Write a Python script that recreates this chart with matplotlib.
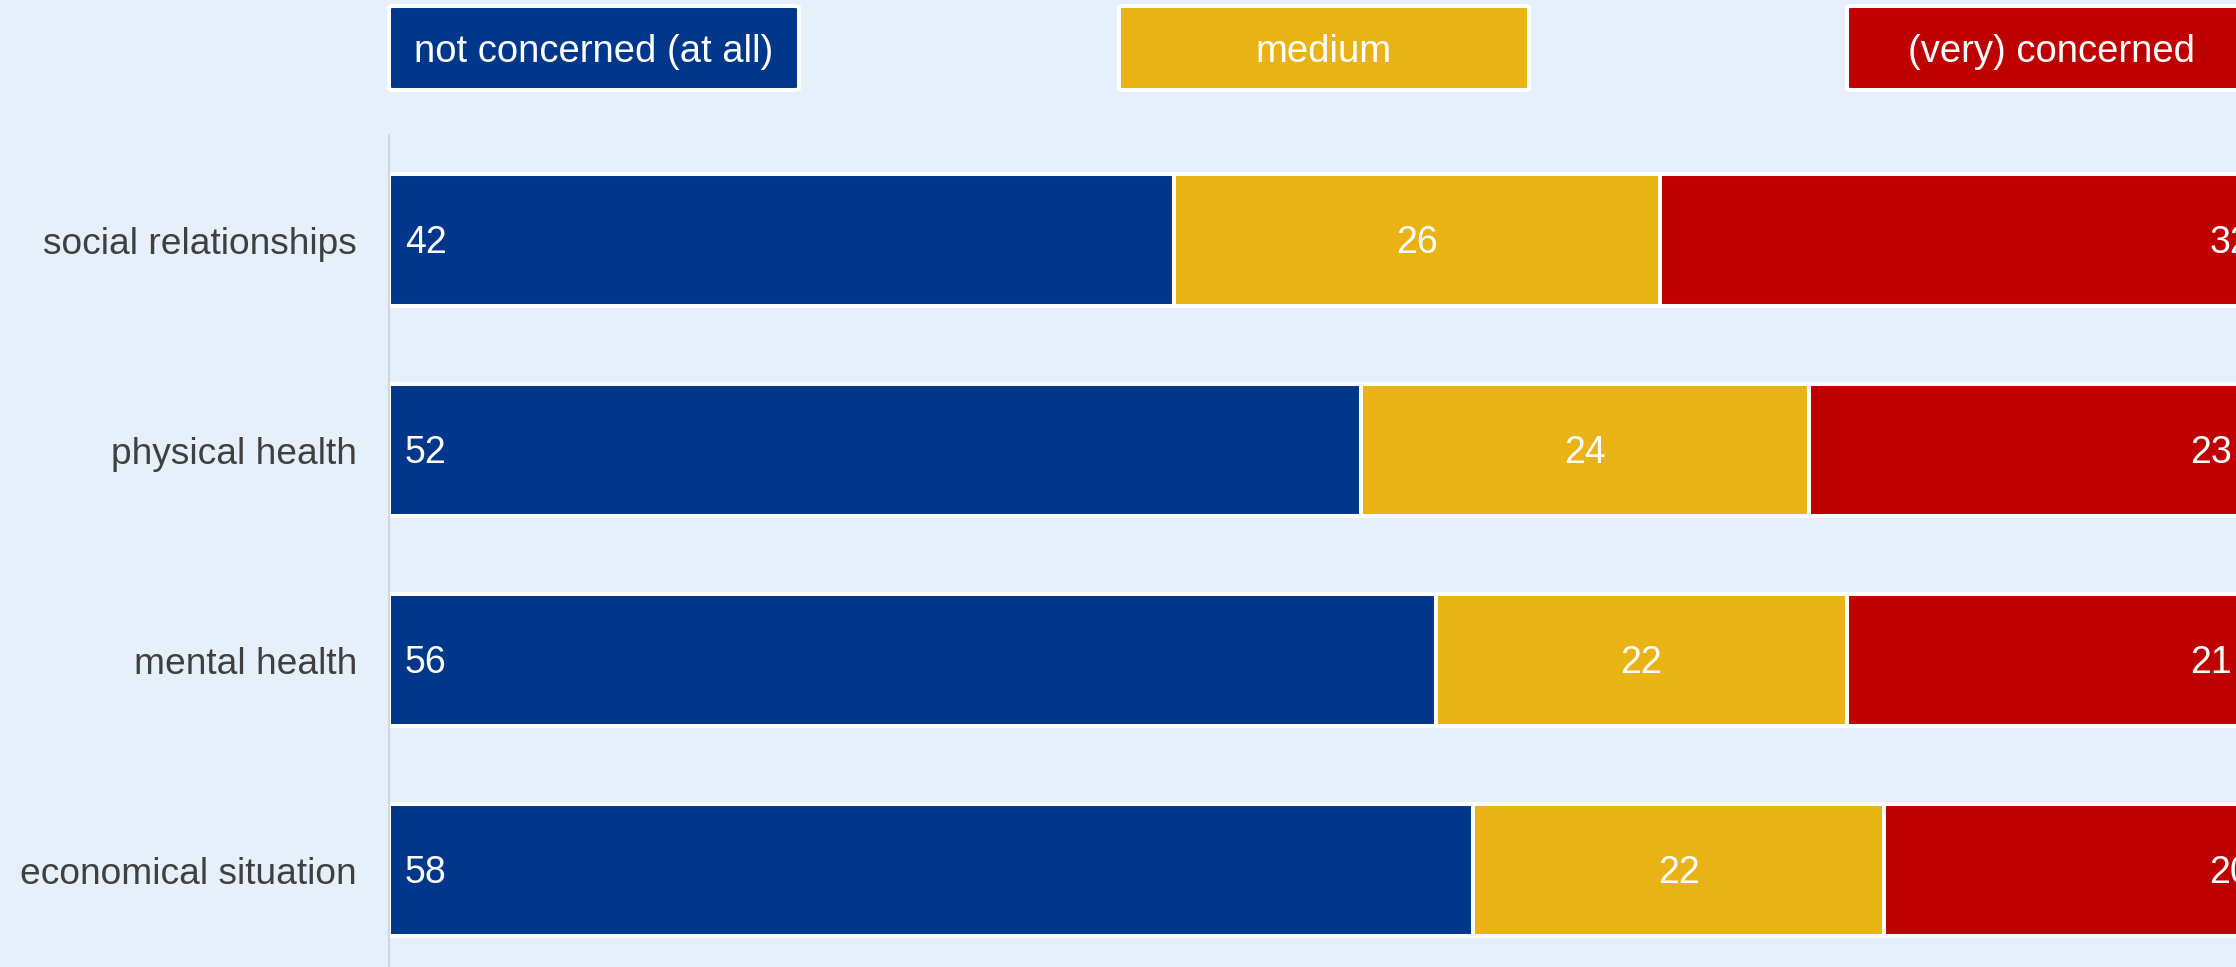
import matplotlib
matplotlib.use("Agg")
import matplotlib.pyplot as plt
from matplotlib.patches import FancyBboxPatch
import numpy as np

categories = ["social relationships", "physical health", "mental health", "economical situation"]
series = ["not concerned (at all)", "medium", "(very) concerned"]
not_concerned = [42, 52, 56, 58]
medium = [26, 24, 22, 22]
concerned = [32, 23, 21, 20]
colors = ["#00378B", "#EAB315", "#BF0000"]
bg = "#E6F0FA"

plt.rcParams['font.family'] = ['Liberation Sans', 'DejaVu Sans']

W, H = 2236, 967
fig = plt.figure(figsize=(W / 100, H / 100), dpi=100, facecolor=bg)

# axes placement in pixels
ax_left = 389
ax_top = 135
px_per_unit = 18.69
row_step = 210
ax = fig.add_axes([ax_left / W, 1 - (ax_top + 4 * row_step) / H,
                   100 * px_per_unit / W, 4 * row_step / H])
ax.set_facecolor(bg)
ax.set_xlim(0, 100)
ax.set_ylim(3.5, -0.5)

y = np.arange(len(categories))
data = [not_concerned, medium, concerned]
left = np.zeros(len(categories))
fs = 27
base_off = -13  # baseline offset in pixels below bar centre
for k, (vals, c) in enumerate(zip(data, colors)):
    vals = np.array(vals, dtype=float)
    ax.barh(y, vals, left=left, height=0.629, color=c, edgecolor="white",
            linewidth=2.9, zorder=2)
    for i, v in enumerate(vals):
        if k == 0:
            pos, dx, ha = left[i], 16, "left"
        elif k == 1:
            pos, dx, ha = left[i] + v / 2, 0, "center"
        else:
            pos, dx, ha = left[i] + v, -7, "right"
        ax.annotate(f"{int(v)}", (pos, y[i]), xytext=(dx, base_off),
                    textcoords="offset pixels", ha=ha, va="baseline",
                    color="white", fontsize=fs, zorder=3, annotation_clip=False)
    left += vals

ax.set_yticks(y)
ax.set_yticklabels(categories, fontsize=26.7, color="#404040")
ax.tick_params(axis="y", length=0, pad=23)
ax.set_xticks([])
for s in ["top", "right", "bottom"]:
    ax.spines[s].set_visible(False)
ax.spines["left"].set_color("#D3D8E0")
ax.spines["left"].set_linewidth(1.5)

# legend boxes
box_w, box_h = 410, 84
box_lefts = [389, 1119, 1847]
box_top = 6
for name, c, bl in zip(series, colors, box_lefts):
    p = FancyBboxPatch((bl / W, 1 - (box_top + box_h) / H), box_w / W, box_h / H,
                       boxstyle="round,pad=0,rounding_size=0.002",
                       transform=fig.transFigure, facecolor=c, edgecolor="white",
                       linewidth=2.9, zorder=5)
    fig.patches.append(p)
    fig.text((bl + box_w / 2) / W, 1 - (box_top + box_h / 2 + 14) / H, name,
             ha="center", va="baseline", color="white", fontsize=27.5, zorder=6)

fig.savefig("out.png", dpi=100, facecolor=bg)
